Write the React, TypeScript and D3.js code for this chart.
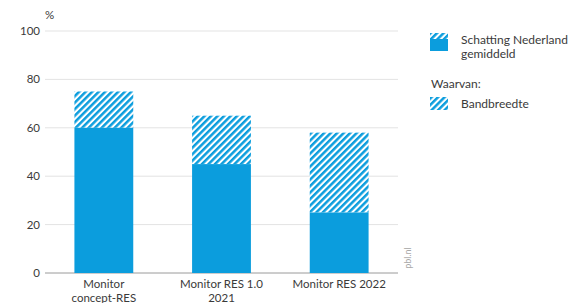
import React from "react";
import * as d3 from "d3";

const categories = ["Monitor concept-RES", "Monitor RES 1.0 2021", "Monitor RES 2022"];
const labelLines = [["Monitor", "concept-RES"], ["Monitor RES 1.0", "2021"], ["Monitor RES 2022"]];
const gemiddeld = [60, 45, 25];
const bovengrens = [75, 65, 58];
const yTicks = [0, 20, 40, 60, 80, 100];

const W = 570;
const H = 303;
const BLUE = "#0b9ddd";
const FONT = "Lato, 'Open Sans', sans-serif";
const TEXT = "#3a3a3a";

const App = () => {
  const x = d3
    .scaleBand<string>()
    .domain(categories)
    .range([45, 398])
    .paddingInner(0.5)
    .paddingOuter(0.25);
  const y = d3.scaleLinear().domain([0, 100]).range([273, 31]);

  return (
    <div style={{ position: "absolute", left: 0, top: 0 }}>
      <svg width={W} height={H} style={{ display: "block", fontFamily: FONT }}>
        <defs>
          <pattern
            id="hatch"
            width="4.6"
            height="4.6"
            patternUnits="userSpaceOnUse"
            patternTransform="rotate(45)"
          >
            <rect width="4.6" height="4.6" fill="#fff" />
            <rect width="2.5" height="4.6" fill={BLUE} />
          </pattern>
        </defs>
        <rect width={W} height={H} fill="#fff" />

        {/* grid */}
        {yTicks.map((t) => (
          <g key={t}>
            <line
              x1={45}
              x2={398}
              y1={y(t)}
              y2={y(t)}
              stroke={t === 0 ? "#9a9a9a" : "#e3e3e3"}
              strokeWidth={1}
            />
            <text x={40} y={y(t)} dy="0.35em" textAnchor="end" fontSize={11.5} fill={TEXT}>
              {t}
            </text>
          </g>
        ))}
        <text x={45} y={19} fontSize={11.5} fill={TEXT}>
          %
        </text>

        {/* bars */}
        {categories.map((c, i) => (
          <g key={c}>
            <rect
              x={x(c)}
              width={x.bandwidth()}
              y={y(bovengrens[i])}
              height={y(gemiddeld[i]) - y(bovengrens[i])}
              fill="url(#hatch)"
            />
            <rect
              x={x(c)}
              width={x.bandwidth()}
              y={y(gemiddeld[i])}
              height={y(0) - y(gemiddeld[i])}
              fill={BLUE}
            />
            {labelLines[i].map((l, j) => (
              <text
                key={j}
                x={(x(c) as number) + x.bandwidth() / 2}
                y={288 + j * 14}
                textAnchor="middle"
                fontSize={11.5}
                fill={TEXT}
              >
                {l}
              </text>
            ))}
          </g>
        ))}

        <text
          transform="translate(411,258) rotate(-90)"
          textAnchor="middle"
          fontSize={9}
          fill="#a8a8a8"
        >
          pbl.nl
        </text>

        {/* legend */}
        <rect x={430} y={33} width={18} height={6} fill="url(#hatch)" />
        <rect x={430} y={39} width={18} height={12} fill={BLUE} />
        <text x={461} y={44} fontSize={12} fill={TEXT}>
          Schatting Nederland
        </text>
        <text x={461} y={58} fontSize={12} fill={TEXT}>
          gemiddeld
        </text>
        <text x={431} y={88} fontSize={12} fill={TEXT}>
          Waarvan:
        </text>
        <rect x={430} y={97} width={18} height={13} fill="url(#hatch)" />
        <text x={461} y={108} fontSize={12} fill={TEXT}>
          Bandbreedte
        </text>
      </svg>
    </div>
  );
};

export default App;
